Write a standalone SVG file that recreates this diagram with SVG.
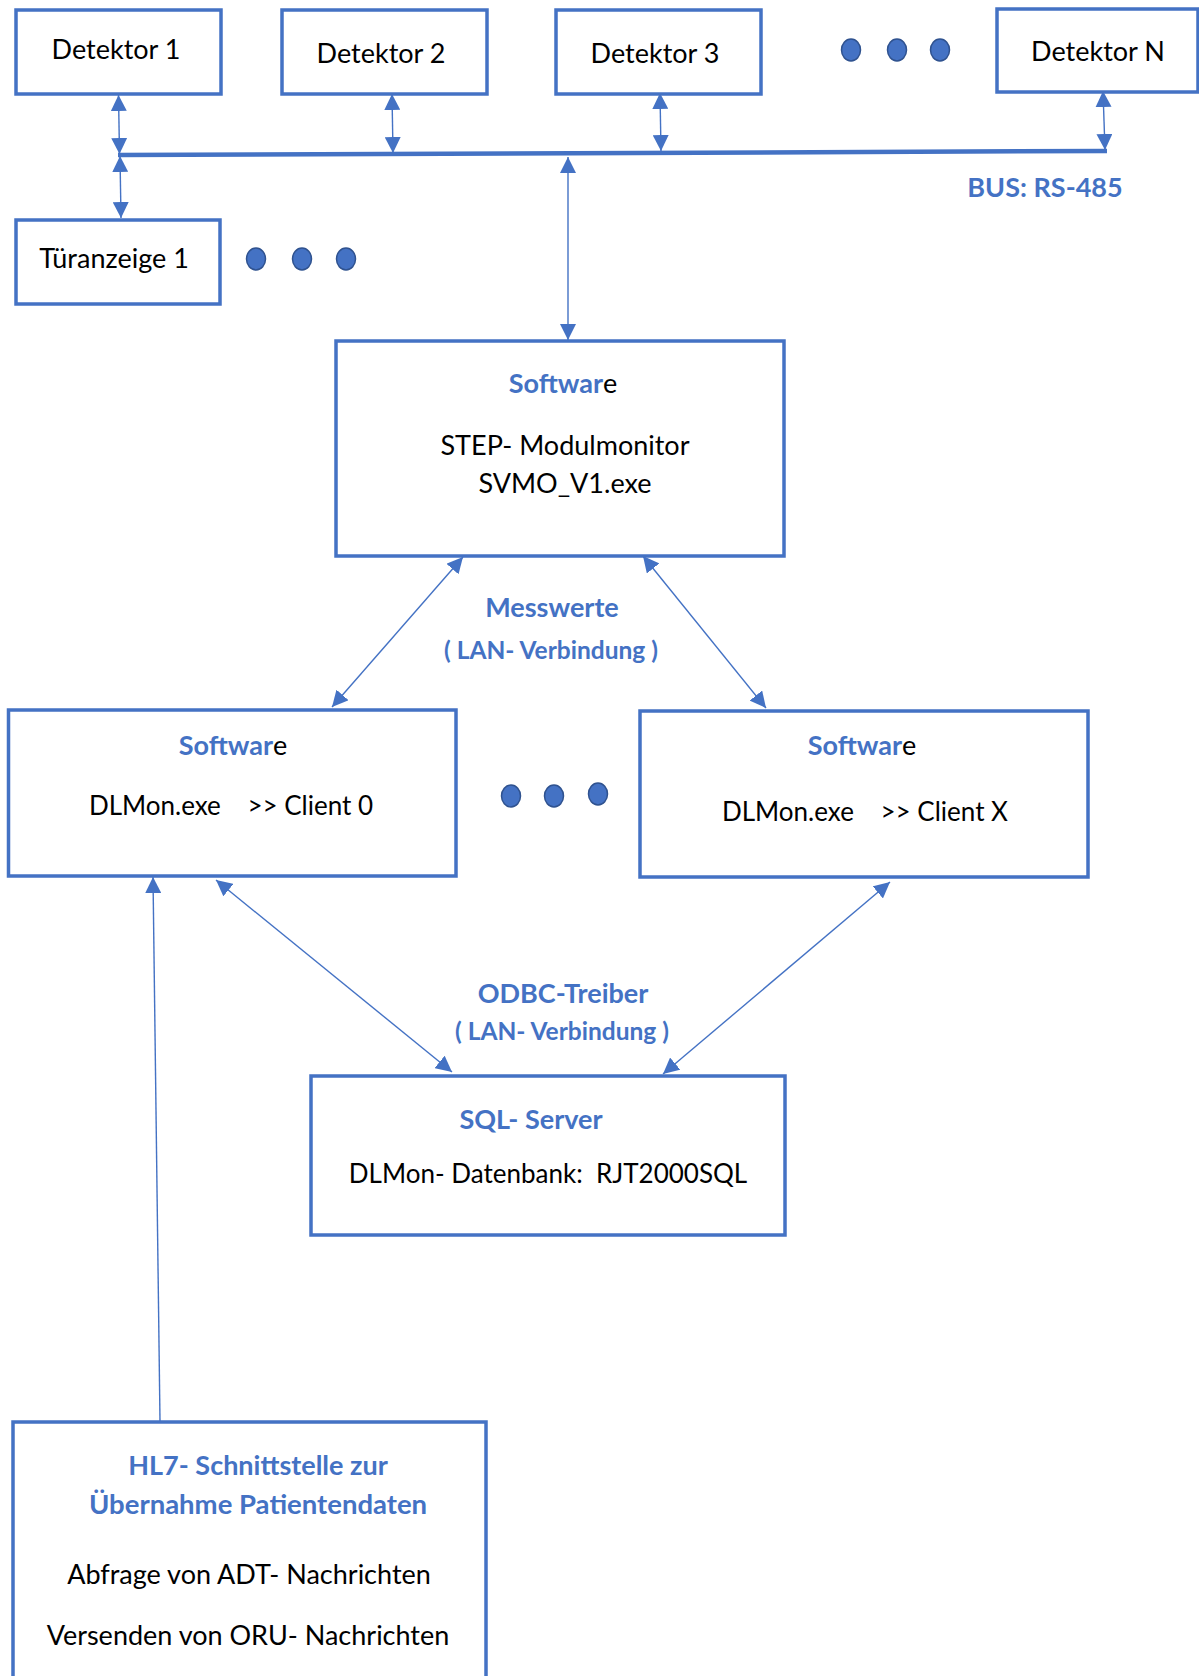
<svg xmlns="http://www.w3.org/2000/svg" width="1199" height="1676" viewBox="0 0 1199 1676">
<style>
.box{fill:#fff;stroke:#4472C4;stroke-width:3.5}
.t{font-family:Lato,"Liberation Sans",sans-serif;font-size:27px;fill:#000;text-anchor:middle}
.b{font-family:Lato,"Liberation Sans",sans-serif;font-size:27px;font-weight:bold;fill:#4472C4;text-anchor:middle}
.s{font-size:24.5px}
.n{font-size:26px}
.bb{font-weight:bold;fill:#4472C4}
.dot{fill:#4472C4;stroke:#2F528F;stroke-width:1.5}
.c{stroke:#4472C4;stroke-width:1.4;fill:none}
.bus{stroke:#4472C4;stroke-width:4.5;fill:none}
</style>
<defs>
<marker id="ah" viewBox="0 0 10 10" refX="10" refY="5" markerWidth="16" markerHeight="16" markerUnits="userSpaceOnUse" orient="auto-start-reverse" preserveAspectRatio="none">
<path d="M0,0 L10,5 L0,10 z" fill="#4472C4"/>
</marker>
</defs>
<rect width="1199" height="1676" fill="#fff"/>

<g id="connectors">
<line class="bus" x1="118" y1="155" x2="1107" y2="151"/>
<line class="c" x1="118.5" y1="95" x2="119.5" y2="154" marker-start="url(#ah)" marker-end="url(#ah)"/>
<line class="c" x1="120" y1="156" x2="121" y2="218" marker-start="url(#ah)" marker-end="url(#ah)"/>
<line class="c" x1="392" y1="94" x2="393" y2="153" marker-start="url(#ah)" marker-end="url(#ah)"/>
<line class="c" x1="660" y1="93" x2="661" y2="151" marker-start="url(#ah)" marker-end="url(#ah)"/>
<line class="c" x1="1103" y1="91" x2="1105" y2="150" marker-start="url(#ah)" marker-end="url(#ah)"/>
<line class="c" x1="568" y1="157" x2="568" y2="340" marker-start="url(#ah)" marker-end="url(#ah)"/>
<line class="c" x1="463" y1="557" x2="332" y2="707" marker-start="url(#ah)" marker-end="url(#ah)"/>
<line class="c" x1="643" y1="556" x2="766" y2="708" marker-start="url(#ah)" marker-end="url(#ah)"/>
<line class="c" x1="216" y1="880" x2="452" y2="1072" marker-start="url(#ah)" marker-end="url(#ah)"/>
<line class="c" x1="890" y1="882" x2="663" y2="1074" marker-start="url(#ah)" marker-end="url(#ah)"/>
<line class="c" x1="160" y1="1421" x2="153" y2="877" marker-end="url(#ah)"/>
</g>

<g id="detektor1"><rect class="box" x="16" y="10" width="205" height="84"/><text class="t" x="116" y="59">Detektor 1</text></g>
<g id="detektor2"><rect class="box" x="282" y="10" width="205" height="84"/><text class="t" x="381" y="63">Detektor 2</text></g>
<g id="detektor3"><rect class="box" x="556" y="10" width="205" height="84"/><text class="t" x="655" y="63">Detektor 3</text></g>
<g id="dots-top"><ellipse class="dot" cx="851" cy="50" rx="9.5" ry="11"/><ellipse class="dot" cx="897" cy="50" rx="9.5" ry="11"/><ellipse class="dot" cx="940" cy="50" rx="9.5" ry="11"/></g>
<g id="detektorN"><rect class="box" x="997" y="9" width="201" height="83"/><text class="t" x="1098" y="61">Detektor N</text></g>
<g id="bus-label"><text class="b" x="1045" y="197">BUS: RS-485</text></g>

<g id="tueranzeige1"><rect class="box" x="16" y="220" width="204" height="84"/><text class="t" x="114" y="268">Türanzeige 1</text></g>
<g id="dots-tuer"><ellipse class="dot" cx="256" cy="259" rx="9.5" ry="11"/><ellipse class="dot" cx="302" cy="259" rx="9.5" ry="11"/><ellipse class="dot" cx="346" cy="259" rx="9.5" ry="11"/></g>

<g id="software-main"><rect class="box" x="336" y="341" width="448" height="215"/>
<text class="t" x="563" y="393"><tspan class="bb">Softwar</tspan>e</text>
<text class="t" x="565" y="455">STEP- Modulmonitor</text>
<text class="t" x="565" y="493">SVMO_V1.exe</text></g>

<g id="label-messwerte"><text class="b" x="552" y="617">Messwerte</text><text class="b s" x="551" y="659">( LAN- Verbindung )</text></g>

<g id="client0"><rect class="box" x="8.5" y="710" width="447.5" height="166"/>
<text class="t" x="233" y="755"><tspan class="bb">Softwar</tspan>e</text>
<text class="t n" x="231" y="815" xml:space="preserve">DLMon.exe    &gt;&gt; Client 0</text></g>

<g id="dots-mid"><ellipse class="dot" cx="511" cy="796" rx="9.5" ry="11"/><ellipse class="dot" cx="554" cy="796" rx="9.5" ry="11"/><ellipse class="dot" cx="598" cy="794" rx="9.5" ry="11"/></g>

<g id="clientX"><rect class="box" x="640" y="711" width="448" height="166"/>
<text class="t" x="862" y="755"><tspan class="bb">Softwar</tspan>e</text>
<text class="t n" x="865" y="821" xml:space="preserve">DLMon.exe    &gt;&gt; Client X</text></g>

<g id="label-odbc"><text class="b" x="563" y="1003">ODBC-Treiber</text><text class="b s" x="562" y="1040">( LAN- Verbindung )</text></g>

<g id="sql-server"><rect class="box" x="311" y="1076" width="474" height="159"/>
<text class="b" x="531" y="1129">SQL- Server</text>
<text class="t n" x="548" y="1183" xml:space="preserve">DLMon- Datenbank:  RJT2000SQL</text></g>

<g id="hl7"><rect class="box" x="13" y="1422" width="473" height="300"/>
<text class="b" x="258" y="1475">HL7- Schnittstelle zur</text>
<text class="b" x="258" y="1514" style="font-size:27.5px">Übernahme Patientendaten</text>
<text class="t" x="249" y="1584">Abfrage von ADT- Nachrichten</text>
<text class="t" x="248" y="1645">Versenden von ORU- Nachrichten</text></g>
</svg>
